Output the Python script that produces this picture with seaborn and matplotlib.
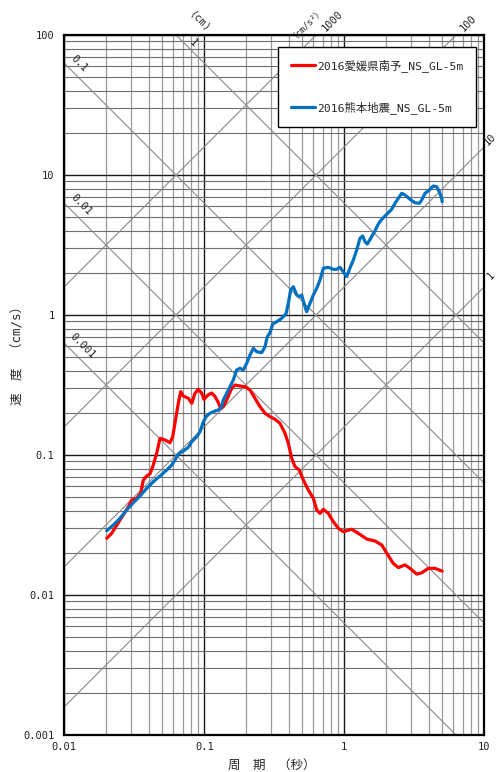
import numpy as np
import pandas as pd
import matplotlib
matplotlib.use('Agg')
import matplotlib.pyplot as plt
from matplotlib.ticker import FixedLocator, FixedFormatter, NullFormatter, LogLocator
import seaborn as sns

# ---------------- data ----------------
series_names = ['2016愛媛県南予_NS_GL-5m', '2016熊本地震_NS_GL-5m']
series_colors = ['#ff0000', '#0070c0']

ehime_T = [0.0201, 0.0218, 0.025, 0.0287, 0.0303, 0.0329, 0.0351, 0.0367, 0.0388, 0.0409,
           0.0432, 0.0457, 0.0483, 0.0524, 0.0569, 0.0595, 0.0628, 0.0652, 0.0678, 0.0708,
           0.0769, 0.0813, 0.0858, 0.0906, 0.0958, 0.0995, 0.1063, 0.1129, 0.1192, 0.1259,
           0.131, 0.1367, 0.1445, 0.157, 0.1657, 0.1799, 0.1953, 0.2121, 0.2302, 0.25,
           0.2714, 0.2947, 0.3199, 0.3473, 0.3771, 0.3981, 0.4211, 0.4445, 0.4772, 0.5095,
           0.5534, 0.6005, 0.6353, 0.6706, 0.7079, 0.7686, 0.8344, 0.9059, 0.9837, 1.129,
           1.259, 1.445, 1.657, 1.85, 2.009, 2.239, 2.431, 2.714, 2.947, 3.29,
           3.573, 3.981, 4.445, 5.0]
ehime_V = [0.0254, 0.0276, 0.0343, 0.0427, 0.0477, 0.0491, 0.0533, 0.0663, 0.0708, 0.0732,
           0.0848, 0.1028, 0.1316, 0.128, 0.1224, 0.135, 0.1878, 0.234, 0.2833, 0.2638,
           0.2541, 0.234, 0.276, 0.2947, 0.276, 0.25, 0.2683, 0.2772, 0.2617, 0.2371,
           0.2148, 0.2219, 0.2471, 0.2995, 0.3162, 0.3111, 0.3075, 0.2912, 0.2541, 0.2213,
           0.1986, 0.1878, 0.1799, 0.1684, 0.1429, 0.1212, 0.0947, 0.0825, 0.0781, 0.0663,
           0.0562, 0.0491, 0.0405, 0.0383, 0.0409, 0.0383, 0.0334, 0.030, 0.0283, 0.0295,
           0.0276, 0.0251, 0.0243, 0.0228, 0.0199, 0.0168, 0.0157, 0.0164, 0.0155, 0.0141,
           0.0144, 0.0155, 0.0155, 0.0148]

kuma_T = [0.0201, 0.0224, 0.025, 0.0279, 0.0311, 0.0347, 0.0388, 0.0432, 0.0483, 0.0539,
          0.0585, 0.0618, 0.0652, 0.0708, 0.0769, 0.0813, 0.0882, 0.0932, 0.0984, 0.104,
          0.1098, 0.1192, 0.1259, 0.1331, 0.1367, 0.1445, 0.1526, 0.1611, 0.1703, 0.1799,
          0.19, 0.2009, 0.2121, 0.2239, 0.2368, 0.257, 0.2714, 0.2818, 0.2947, 0.3081,
          0.329, 0.3573, 0.3833, 0.3981, 0.4141, 0.4323, 0.4571, 0.4772, 0.4962, 0.5153,
          0.5387, 0.5689, 0.6005, 0.6353, 0.6706, 0.7079, 0.7686, 0.8344, 0.8823, 0.9318,
          0.9837, 1.04, 1.098, 1.16, 1.226, 1.295, 1.353, 1.406, 1.46, 1.544,
          1.657, 1.75, 1.85, 1.953, 2.063, 2.181, 2.302, 2.431, 2.57, 2.714,
          2.947, 3.199, 3.434, 3.573, 3.771, 4.048, 4.323, 4.571, 4.772, 4.962, 5.0]
kuma_V = [0.0288, 0.0316, 0.0353, 0.0405, 0.0456, 0.0509, 0.0578, 0.0645, 0.0708, 0.0781,
          0.0848, 0.0921, 0.1016, 0.1068, 0.1135, 0.1245, 0.135, 0.1467, 0.1729, 0.19,
          0.1986, 0.2062, 0.2096, 0.2213, 0.2471, 0.276, 0.3075, 0.3434, 0.4048, 0.4162,
          0.4048, 0.4519, 0.518, 0.5782, 0.5469, 0.5379, 0.5937, 0.6998, 0.7473, 0.8623,
          0.8956, 0.9471, 1.017, 1.212, 1.509, 1.593, 1.39, 1.351, 1.39, 1.212,
          1.056, 1.212, 1.39, 1.551, 1.778, 2.156, 2.191, 2.12, 2.12, 2.191,
          2.038, 1.878, 2.166, 2.471, 2.912, 3.531, 3.667, 3.339, 3.215, 3.531,
          4.0, 4.467, 4.827, 5.095, 5.379, 5.689, 6.28, 6.818, 7.401, 7.196,
          6.706, 6.341, 6.28, 6.63, 7.401, 7.812, 8.345, 8.25, 7.6, 6.818, 6.449]

x_ticks = [0.01, 0.1, 1, 10]
x_tick_labels = ['0.01', '0.1', '1', '10']
y_ticks = [0.001, 0.01, 0.1, 1, 10, 100]
y_tick_labels = ['0.001', '0.01', '0.1', '1', '10', '100']

disp_values = [0.001, 0.01, 0.1, 1]        # cm
accel_values = [1, 10, 100, 1000]          # cm/s^2

x_label = '周　期　（秒）'
y_label = '速　度　（cm/s）'

# ---------------- figure ----------------
sns.set_theme(style='white')
FONT = ['DejaVu Sans Mono', 'Noto Sans CJK JP']
plt.rcParams['font.family'] = FONT
plt.rcParams['axes.unicode_minus'] = False

W, H = 498, 772
fig = plt.figure(figsize=(W / 100, H / 100), dpi=100)
ax_l, ax_r, ax_t, ax_b = 64.3, 484.3, 35, 735
ax = fig.add_axes([ax_l / W, 1 - ax_b / H, (ax_r - ax_l) / W, (ax_b - ax_t) / H])

ax.set_xscale('log')
ax.set_yscale('log')
ax.set_xlim(0.01, 10)
ax.set_ylim(0.001, 100)

# grid
ax.set_axisbelow(True)
ax.xaxis.set_major_locator(FixedLocator(x_ticks))
ax.xaxis.set_major_formatter(FixedFormatter(x_tick_labels))
ax.yaxis.set_major_locator(FixedLocator(y_ticks))
ax.yaxis.set_major_formatter(FixedFormatter(y_tick_labels))
ax.xaxis.set_minor_locator(LogLocator(base=10, subs=np.arange(2, 10), numticks=20))
ax.yaxis.set_minor_locator(LogLocator(base=10, subs=np.arange(2, 10), numticks=20))
ax.xaxis.set_minor_formatter(NullFormatter())
ax.yaxis.set_minor_formatter(NullFormatter())
ax.xaxis.grid(True, which='major', color='#1a1a1a', lw=1.0)
ax.yaxis.grid(True, which='major', color='#1a1a1a', lw=1.0)
ax.xaxis.grid(True, which='minor', color='#9a9a9a', lw=0.9)
ax.yaxis.grid(True, which='minor', color='#6e6e6e', lw=0.8)
ax.tick_params(which='both', length=0)
ax.tick_params(axis='x', which='major', pad=5, labelsize=7.5, colors='#222222')
ax.tick_params(axis='y', which='major', pad=7, labelsize=7.5, colors='#222222')

for s in ax.spines.values():
    s.set_color('black')
    s.set_linewidth(1.6)
    s.set_visible(True)

# tripartite diagonals
Tg = np.logspace(-2.5, 1.5, 200)
for d in disp_values:
    ax.plot(Tg, 2 * np.pi * d / Tg, color='#8a8a8a', lw=0.8, zorder=1.5)
for a in accel_values:
    ax.plot(Tg, a * Tg / (2 * np.pi), color='#8a8a8a', lw=0.8, zorder=1.5)

# curves
df = pd.concat([
    pd.DataFrame({'T': ehime_T, 'V': ehime_V, 'series': series_names[0]}),
    pd.DataFrame({'T': kuma_T, 'V': kuma_V, 'series': series_names[1]}),
], ignore_index=True)
sns.lineplot(data=df, x='T', y='V', hue='series', hue_order=series_names,
             palette=dict(zip(series_names, series_colors)), estimator=None,
             sort=False, lw=2.3, ax=ax, zorder=3)

ax.set_xlim(0.01, 10)
ax.set_ylim(0.001, 100)

leg = ax.legend(loc='upper right', bbox_to_anchor=(0.980, 0.983), borderaxespad=0,
                frameon=True, fancybox=False, edgecolor='black', framealpha=1,
                prop={'family': FONT, 'size': 8.2}, handlelength=2.1,
                handletextpad=0.2, labelspacing=2.55, borderpad=1.1)
leg.get_frame().set_linewidth(1.0)
for line in leg.get_lines():
    line.set_linewidth(2.3)

ax.set_xlabel(x_label, fontsize=9, va='center', ha='center', family=FONT)
ax.xaxis.set_label_coords((272 - ax_l) / (ax_r - ax_l), (ax_b - 765) / (ax_b - ax_t))
ax.set_ylabel(y_label, fontsize=9, va='center', ha='center', family=FONT)
ax.yaxis.set_label_coords((18 - ax_l) / (ax_r - ax_l), (ax_b - 352) / (ax_b - ax_t))


def ftxt(px, py, s, rot, size=7.5):
    fig.text(px / W, 1 - py / H, s, rotation=rot, ha='center', va='center',
             fontsize=size, color='#222222', rotation_mode='anchor', family=FONT)


# displacement labels
ftxt(79, 64, '0.1', -45)
ftxt(81, 205, '0.01', -45)
ftxt(83, 346, '0.001', -45)
ftxt(193, 43, '1', -45)
ftxt(200, 22, '(cm)', -45)
# acceleration labels
ftxt(306, 21, '（cm/s²）', 45, 6.3)
ftxt(332, 21, '1000', 45)
ftxt(468, 23, '100', 45)
ftxt(490, 139, '10', 45)
ftxt(491, 276, '1', 45)

fig.savefig('out.png', dpi=100, facecolor='white')
